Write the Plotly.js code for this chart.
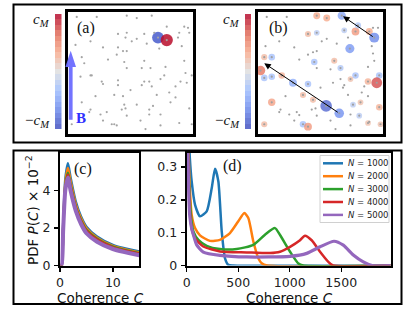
<!DOCTYPE html>
<html><head><meta charset="utf-8">
<script src="https://cdn.plot.ly/plotly-3.0.1.min.js"></script>
<style>html,body{margin:0;padding:0;background:#fff}#g{width:415px;height:311px}</style>
</head><body><div id="g"></div>
<script>
// ---------- DATA ----------
// panel (a): particle positions (unit square)
const aX = [0.07,0.23,0.47,0.55,0.67,0.79,0.93,0.96,0.97,0.89,0.88,0.40,0.47,0.46,0.55,0.51,0.61,0.63,0.69,0.73,0.28,0.40,0.44,0.47,0.39,0.45,0.32,0.06,0.18,0.11,0.13,0.61,0.66,0.78,0.59,0.47,0.93,0.91,0.94,0.99,0.77,0.74,0.65,0.67,0.10,0.18,0.19,0.28,0.27,0.40,0.40,0.50,0.59,0.61,0.90,0.86,0.95,0.86,0.81,0.71,0.44,0.37,0.22,0.11,0.45,0.55,0.46,0.43,0.31,0.26,0.18,0.17,0.65,0.68,0.65,0.74,0.82,0.97,0.58,0.47,0.35,0.37,0.39,0.28,0.62,0.74,0.89,0.99,0.03,0.72,0.79];
const aY = [0.96,0.96,0.97,0.95,0.97,0.88,0.88,0.87,0.83,0.83,0.79,0.82,0.83,0.79,0.78,0.76,0.82,0.74,0.83,0.70,0.71,0.71,0.68,0.68,0.65,0.59,0.61,0.73,0.76,0.63,0.58,0.60,0.54,0.55,0.54,0.54,0.60,0.72,0.50,0.48,0.48,0.45,0.43,0.39,0.47,0.48,0.48,0.41,0.43,0.44,0.40,0.36,0.40,0.43,0.43,0.39,0.42,0.30,0.34,0.32,0.31,0.32,0.31,0.26,0.24,0.24,0.21,0.20,0.18,0.16,0.20,0.18,0.20,0.23,0.16,0.16,0.26,0.21,0.11,0.15,0.08,0.08,0.07,0.11,0.04,0.07,0.09,0.08,0.08,0.79,0.77];
// coherent pair in (a)
const aCX = [0.72, 0.79];
const aCY = [0.79, 0.77];
const aCV = [-0.92, 0.97];

// panel (b): coherent particles (x, y, normalised coherence c/c_M)
const bCX = [0.67,0.47,0.55,0.78,0.89,0.93,0.80,0.735,0.40,0.47,0.05,0.11,0.02,0.05,0.11,0.19,0.28,0.40,0.45,0.61,0.66,0.78,0.74,0.97,0.95,0.88,0.36,0.11,0.44,0.545,0.65,0.76,0.82,0.97,0.81,0.36,0.40,0.05,0.88,0.98,0.69];
const bCY = [0.97,0.97,0.95,0.84,0.84,0.79,0.89,0.70,0.82,0.83,0.63,0.63,0.52,0.46,0.47,0.48,0.42,0.41,0.59,0.60,0.54,0.48,0.45,0.48,0.42,0.43,0.32,0.26,0.28,0.23,0.17,0.24,0.26,0.22,0.15,0.08,0.06,0.08,0.09,0.08,0.85];
const bCV = [-0.5,0.35,0.35,0.45,0.35,-0.7,-0.25,-0.6,0.25,-0.2,0.25,-0.3,0.65,-0.3,-0.3,0.3,-0.45,-0.3,-0.3,0.25,-0.25,-0.3,0.2,-0.3,0.8,0.3,0.25,0.4,0.25,-0.9,-0.65,-0.2,0.2,0.3,-0.2,-0.3,0.45,0.25,0.2,0.2,-0.2];
// panel (b): other particles
const bGX = [0.07,0.23,0.06,0.17,0.29,0.40,0.44,0.47,0.51,0.55,0.63,0.72,0.92,0.96,0.91,0.93,0.88,0.58,0.47,0.33,0.66,0.68,0.69,0.85,0.88,0.83,0.72,0.60,0.50,0.22,0.46,0.43,0.31,0.25,0.17,0.18,0.74,0.58,0.47,0.29,0.62,0.74,0.89,0.33,0.92];
const bGY = [0.96,0.96,0.72,0.76,0.71,0.65,0.67,0.68,0.76,0.78,0.74,0.79,0.87,0.87,0.72,0.60,0.55,0.53,0.54,0.61,0.45,0.38,0.40,0.39,0.31,0.34,0.32,0.42,0.38,0.31,0.21,0.20,0.18,0.16,0.18,0.20,0.16,0.11,0.15,0.11,0.04,0.07,0.10,0.155,0.66];
// arrows in (b): tail -> head
const arrTailX = [0.93, 0.65];
const arrTailY = [0.79, 0.17];
const arrHeadX = [0.68, 0.05];
const arrHeadY = [0.965, 0.58];

// panel (c): PDF x 1e-2, small C
const cC = [0, 0.3, 0.6, 1.0, 1.5, 2, 3, 4, 5, 7, 10, 12, 15];
const c1000 = [0, 0, 2.2, 4.6, 5.45, 4.7, 3.4, 2.6, 2.07, 1.55, 1.10, 0.93, 0.75];
const c2000 = [0, 0, 2.1, 4.4, 5.20, 4.5, 3.25, 2.5, 1.98, 1.48, 1.04, 0.88, 0.70];
const c3000 = [0, 0, 2.0, 4.2, 4.95, 4.3, 3.10, 2.4, 1.90, 1.42, 1.00, 0.84, 0.66];
const c4000 = [0, 0, 1.95, 4.1, 4.85, 4.2, 3.05, 2.35, 1.85, 1.38, 0.97, 0.81, 0.63];
const c5000 = [0, 0, 1.9, 4.0, 4.70, 4.0, 2.90, 2.2, 1.72, 1.27, 0.88, 0.73, 0.55];

// panel (d): full PDF
const dC1000 = [0,10,20,30,48,81,129,194,243,275,307,340,372,404,450,1980];
const dP1000 = [0.9,0.55,0.40,0.33,0.257,0.185,0.150,0.165,0.236,0.295,0.257,0.104,0.022,0.002,0,0];
const dC2000 = [0,10,20,30,48,81,129,226,323,420,501,559,598,647,695,728,780,1980];
const dP2000 = [0.9,0.5,0.33,0.24,0.155,0.114,0.092,0.075,0.078,0.099,0.135,0.160,0.145,0.073,0.022,0.007,0,0];
const dC3000 = [0,10,20,30,45,65,113,194,323,485,647,760,857,906,1003,1084,1130,1980];
const dP3000 = [0.9,0.45,0.28,0.2,0.14,0.104,0.078,0.060,0.050,0.050,0.063,0.094,0.114,0.093,0.042,0.006,0,0];
const dC4000 = [0,10,20,30,50,81,161,323,583,809,906,1003,1100,1148,1213,1294,1375,1420,1980];
const dP4000 = [0.9,0.42,0.25,0.17,0.11,0.083,0.058,0.043,0.040,0.038,0.042,0.057,0.077,0.091,0.077,0.042,0.011,0,0];
const dC5000 = [0,10,20,30,50,65,97,161,323,583,1003,1165,1294,1430,1520,1617,1714,1800,1980];
const dP5000 = [0.9,0.38,0.22,0.15,0.11,0.094,0.063,0.041,0.031,0.026,0.028,0.037,0.057,0.074,0.062,0.032,0.011,0,0];

const seriesNames = ['1000','2000','3000','4000','5000'];
const cbLevels = [-1,-0.9,-0.8,-0.7,-0.6,-0.5,-0.4,-0.3,-0.2,-0.1,0,0.1,0.2,0.3,0.4,0.5,0.6,0.7,0.8,0.9,1];

// ---------- STYLE / LAYOUT ----------
const W = 415, H = 311;
const PX = x => x / W, PY = y => 1 - y / H;
const colors = ['#1f77b4','#ff7f0e','#2ca02c','#d62728','#9467bd'];
const coolwarm = [[0,'#3b4cc0'],[0.167,'#6788ee'],[0.333,'#9abbff'],[0.5,'#dddcdc'],[0.667,'#f7a889'],[0.833,'#e26952'],[1,'#b40426']];
const SANS = 'DejaVu Sans, sans-serif';
const SERIF = 'Liberation Serif, DejaVu Serif, serif';
const sizeOf = v => 4 + 8.5 * Math.abs(v);

const traces = [];
// (a)
traces.push({type:'scatter', mode:'markers', x:aCX, y:aCY, xaxis:'x', yaxis:'y', showlegend:false,
  marker:{color:aCV, cmin:-1, cmax:1, colorscale:coolwarm, size:aCV.map(sizeOf), opacity:0.85, line:{width:0}}});
traces.push({type:'scatter', mode:'markers', x:aX, y:aY, xaxis:'x', yaxis:'y', showlegend:false,
  marker:{color:'#a4a4a4', size:2.2, line:{width:0}}});
// (b)
traces.push({type:'scatter', mode:'markers', x:bCX, y:bCY, xaxis:'x2', yaxis:'y2', showlegend:false,
  marker:{color:bCV, cmin:-1, cmax:1, colorscale:coolwarm, size:bCV.map(sizeOf), opacity:0.75, line:{width:0}}});
traces.push({type:'scatter', mode:'markers', x:bGX.concat(bCX), y:bGY.concat(bCY), xaxis:'x2', yaxis:'y2', showlegend:false,
  marker:{color:'#a0a0a0', size:2.2, line:{width:0}}});
// colorbars as heatmaps
[['x5','y5'],['x6','y6']].forEach(([xa,ya])=>{
  traces.push({type:'heatmap', z:cbLevels.map(v=>[v]), x:[0], y:cbLevels, xaxis:xa, yaxis:ya,
    colorscale:coolwarm, zmin:-1, zmax:1, showscale:false, opacity:0.8, hoverinfo:'skip'});
});
// (c)
[c1000,c2000,c3000,c4000,c5000].forEach((ys,i)=>{
  traces.push({type:'scatter', mode:'lines', x:cC, y:ys, xaxis:'x3', yaxis:'y3', showlegend:false,
    line:{color:colors[i], width: i===4?4:2.5, shape:'spline', smoothing:0.6}});
});
// (d)
[[dC1000,dP1000],[dC2000,dP2000],[dC3000,dP3000],[dC4000,dP4000],[dC5000,dP5000]].forEach(([xs,ys],i)=>{
  traces.push({type:'scatter', mode:'lines', x:xs, y:ys, xaxis:'x4', yaxis:'y4', showlegend:false,
    name:'N = '+seriesNames[i],
    line:{color:colors[i], width: i===4?3.2:2.5, shape:'spline', smoothing:0.6}});
});

const boxAxis = (dom, anchor) => ({domain:dom, anchor:anchor, range:[0,1], showline:true, mirror:true, linewidth:3, linecolor:'#000',
  showticklabels:false, ticks:'', showgrid:false, zeroline:false, fixedrange:true});
const hidAxis = (dom, anchor, range) => ({domain:dom, anchor:anchor, range:range, visible:false, showgrid:false, zeroline:false, fixedrange:true});
const tickFont = {family:SANS, size:12.5, color:'#222'};
const plotAxis = (dom, anchor, range, tv, tt, so) => ({domain:dom, anchor:anchor, range:range, tickvals:tv, ticktext:tt, showline:true, mirror:true,
  linewidth:2, linecolor:'#000', ticks:'outside', ticklen:4, tickwidth:1.3, tickcolor:'#000', showgrid:false, zeroline:false,
  tickfont:tickFont, ticklabelstandoff:so, fixedrange:true});

const layout = {
  width:W, height:H, margin:{l:0,r:0,t:0,b:0}, paper_bgcolor:'#fff', plot_bgcolor:'#fff',
  showlegend:false,
  xaxis: boxAxis([PX(68),PX(193)], 'y'),
  yaxis: boxAxis([PY(134),PY(12)], 'x'),
  xaxis2: boxAxis([PX(258),PX(383)], 'y2'),
  yaxis2: boxAxis([PY(134),PY(12)], 'x2'),
  xaxis5: hidAxis([PX(55),PX(61.5)], 'y5', [-0.5,0.5]),
  yaxis5: hidAxis([PY(129.3),PY(14)], 'x5', [-1.05,1.05]),
  xaxis6: hidAxis([PX(245),PX(251)], 'y6', [-0.5,0.5]),
  yaxis6: hidAxis([PY(129.3),PY(14)], 'x6', [-1.05,1.05]),
  xaxis3: plotAxis([PX(60),PX(139.3)], 'y3', [0,15], [0,10], ['0','10'], 0),
  yaxis3: plotAxis([PY(265.5),PY(153)], 'x3', [0,6], [0,2,4], ['0','2','4'], 1),
  xaxis4: plotAxis([PX(186.7),PX(390.7)], 'y4', [0,1980], [0,500,1000,1500], ['0','500','1000','1500'], 0),
  yaxis4: plotAxis([PY(265.5),PY(153)], 'x4', [0,0.343], [0,0.1,0.2,0.3], ['0','0.1','0.2','0.3'], 1),
  shapes:[
    {type:'rect', xref:'paper', yref:'paper', x0:PX(13.5), x1:PX(401.5), y0:PY(142.5), y1:PY(4.5), line:{color:'#000', width:2}},
    {type:'rect', xref:'paper', yref:'paper', x0:PX(13.5), x1:PX(401.5), y0:PY(304), y1:PY(150.5), line:{color:'#000', width:2}},
    // B-field arrow in (a)
    {type:'path', xref:'paper', yref:'paper', fillcolor:'#6b6bff', opacity:0.95, line:{width:0},
     path:`M ${PX(68.8)},${PY(119.7)} L ${PX(72.6)},${PY(119.7)} L ${PX(72.6)},${PY(67)} L ${PX(76)},${PY(67)} L ${PX(70.7)},${PY(50.7)} L ${PX(65.4)},${PY(67)} L ${PX(68.8)},${PY(67)} Z`},
    // legend frame
    {type:'rect', xref:'paper', yref:'paper', x0:PX(320), x1:PX(389), y0:PY(222.5), y1:PY(155.5), fillcolor:'rgba(255,255,255,0.85)', line:{color:'#d0d0d0', width:1}}
  ],
  annotations:[]
};
const ann = layout.annotations;
const txt = (x,y,text,size,family,extra) => ann.push(Object.assign({xref:'paper', yref:'paper', x:PX(x), y:PY(y), text:text, showarrow:false,
  font:{family:family, size:size, color:'#111'}, xanchor:'center', yanchor:'middle'}, extra||{}));
// legend entries
seriesNames.forEach((n,i)=>{
  const yy = 163.3 + i*12.9;
  layout.shapes.push({type:'line', xref:'paper', yref:'paper', x0:PX(323), x1:PX(343), y0:PY(yy), y1:PY(yy), line:{color:colors[i], width:2.5}});
  txt(346, yy, '<i>N</i> = '+n, 8.5, SANS, {xanchor:'left', font:{family:SANS, size:8.5, color:'#222'}});
});
txt(86,28,'(a)',16,SERIF);
txt(278,28,'(b)',16,SERIF);
txt(82.5,169,'(c)',16,SERIF);
txt(232,166,'(d)',16,SERIF);
txt(80.5,118,'<b>B</b>',15,SERIF,{font:{family:SERIF,size:15,color:'#3030ff'}});
txt(52,20,'<i>c</i><sub><i>M</i></sub>',15,SERIF,{xanchor:'right'});
txt(52,121,'−<i>c</i><sub><i>M</i></sub>',15,SERIF,{xanchor:'right'});
txt(242,20,'<i>c</i><sub><i>M</i></sub>',15,SERIF,{xanchor:'right'});
txt(242,121,'−<i>c</i><sub><i>M</i></sub>',15,SERIF,{xanchor:'right'});
txt(32,210,'PDF <i>P</i>(<i>C</i>) × 10<sup>−2</sup>',13.5,SANS,{textangle:-90});
txt(100,297.5,'Coherence <i>C</i>',13.5,SANS);
txt(289,297.5,'Coherence <i>C</i>',13.5,SANS);
// arrows in (b)
for (let i=0;i<arrTailX.length;i++){
  ann.push({xref:'x2', yref:'y2', axref:'x2', ayref:'y2', x:arrHeadX[i], y:arrHeadY[i], ax:arrTailX[i], ay:arrTailY[i],
    text:'', showarrow:true, arrowhead:2, arrowsize:1.3, arrowwidth:1, arrowcolor:'#000', standoff:0, startstandoff:0});
}
Plotly.newPlot('g', traces, layout, {displayModeBar:false, staticPlot:true});
</script></body></html>
